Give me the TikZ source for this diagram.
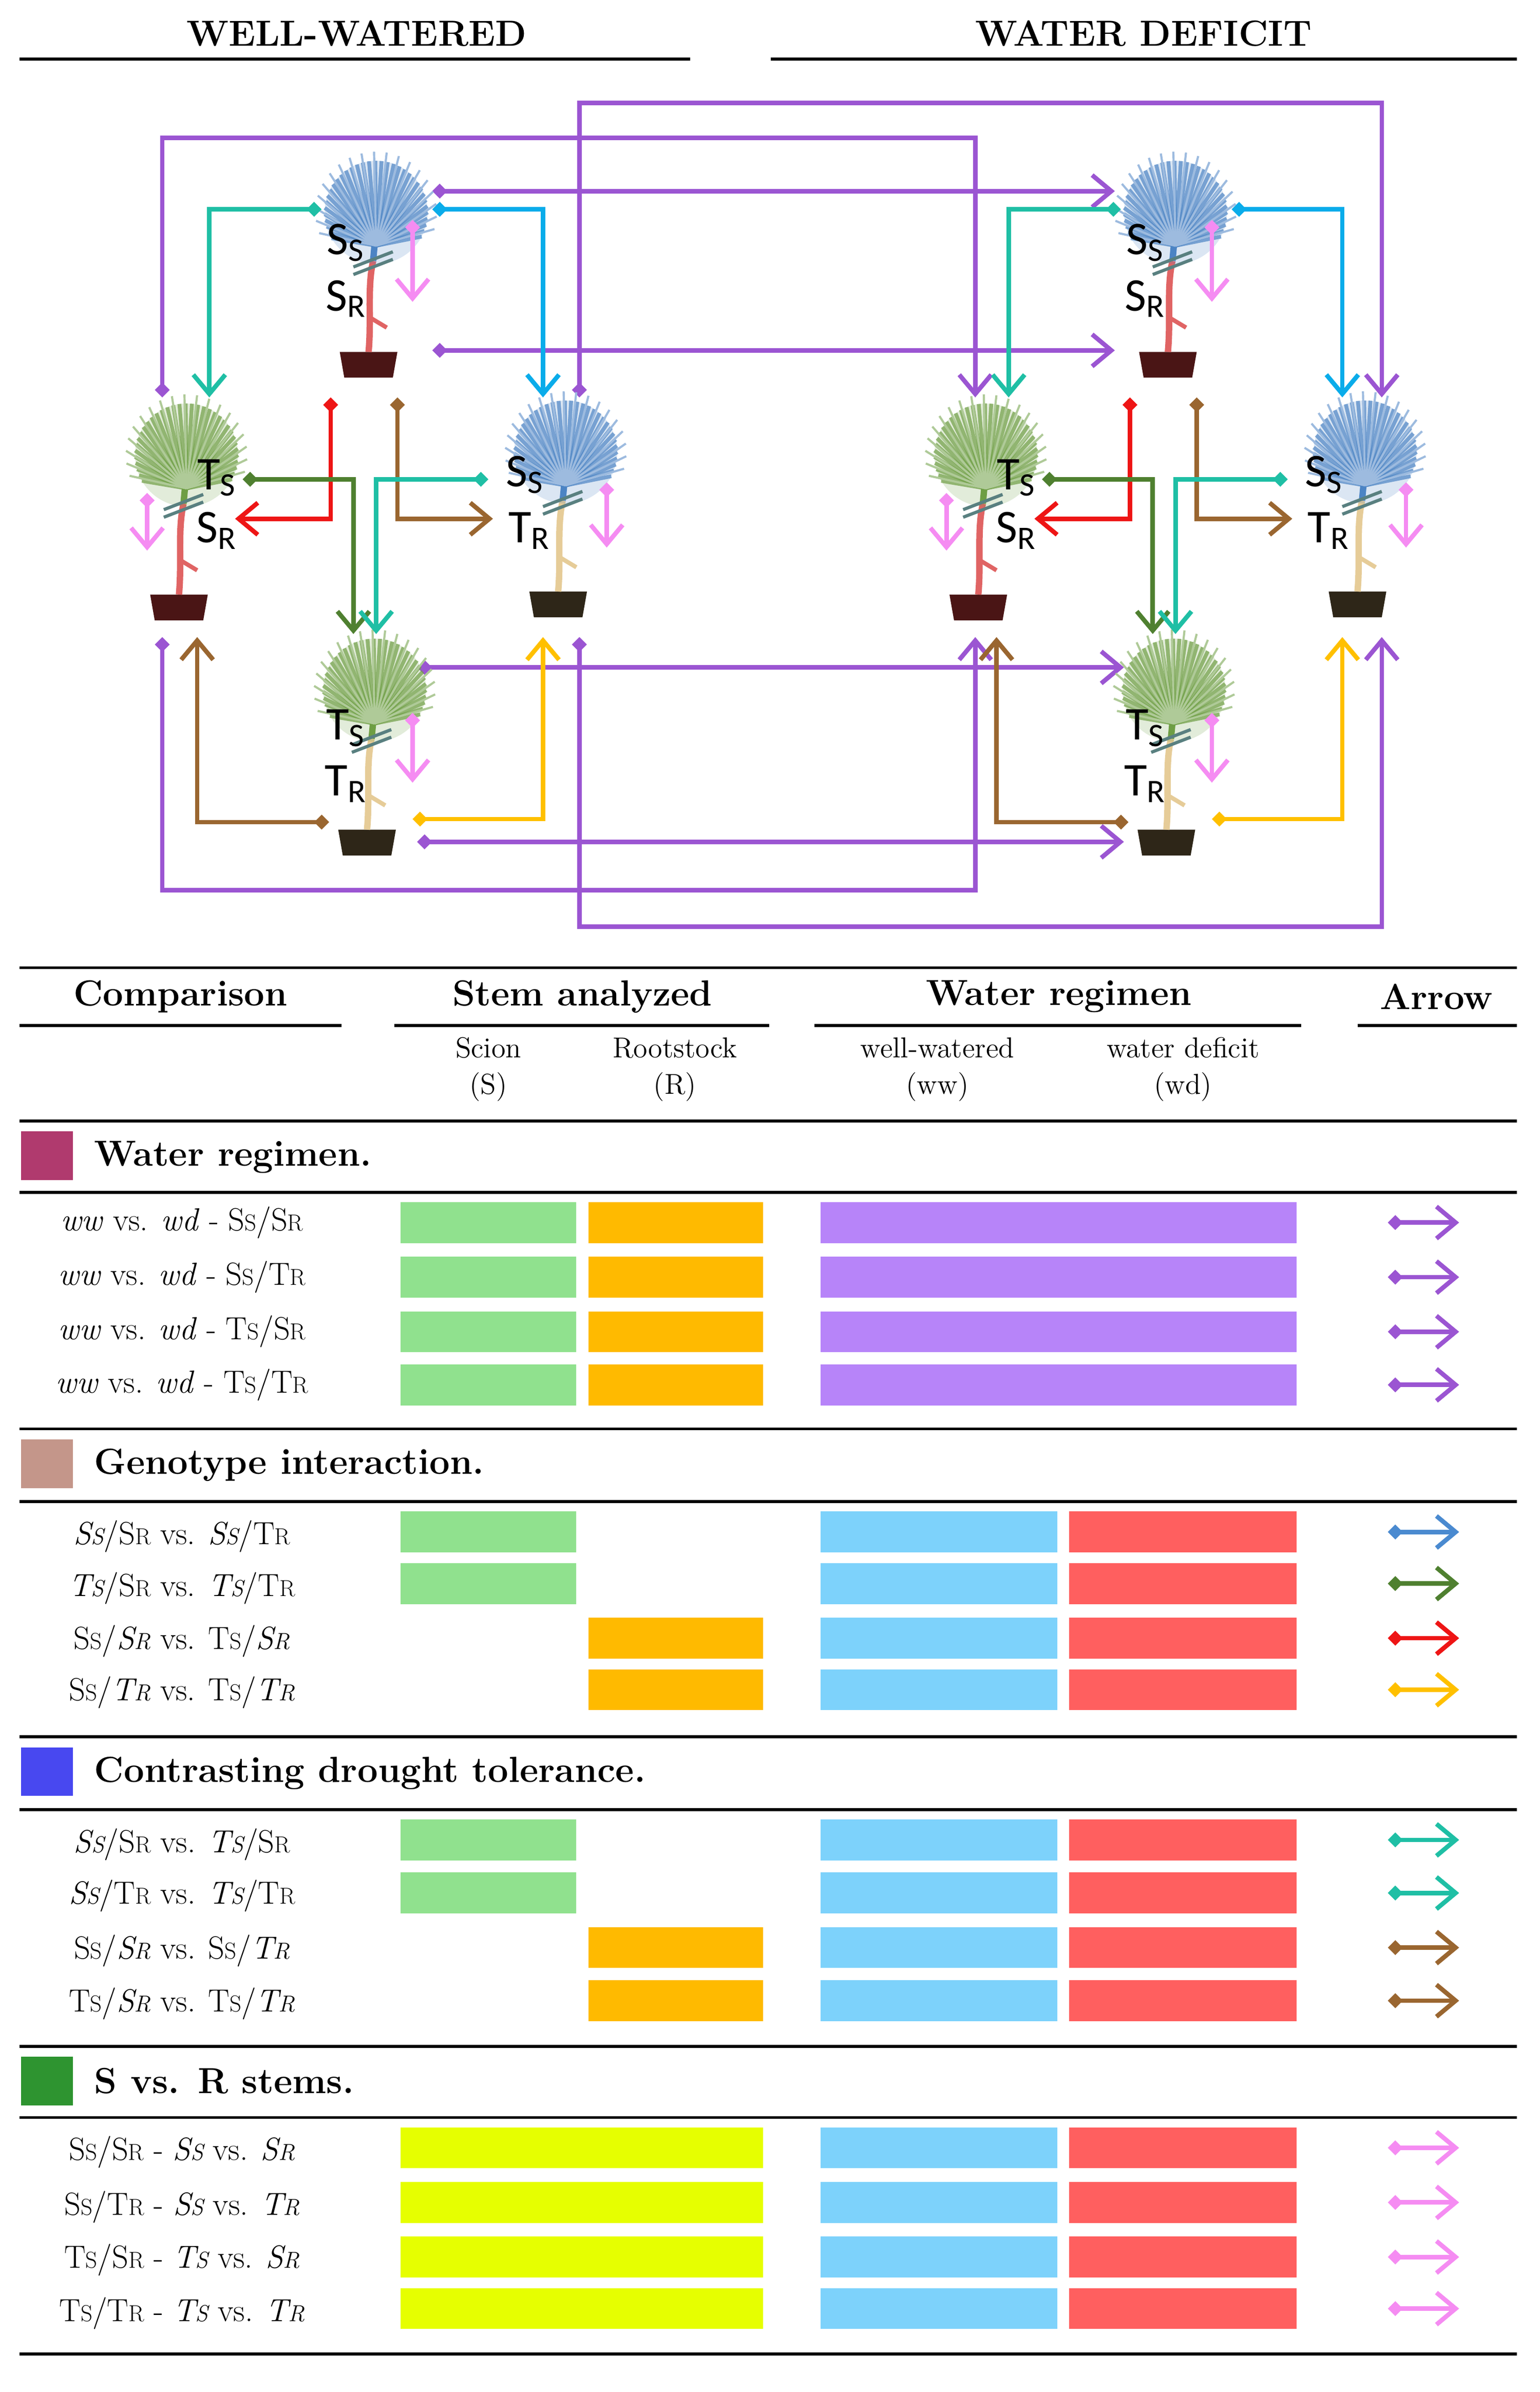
\documentclass[tikz,border=0pt]{standalone}
\usepackage{fontspec}
\setsansfont{Carlito}
\usetikzlibrary{arrows.meta,calc}
\definecolor{cpur}{HTML}{9B55D2}
\definecolor{cteal}{HTML}{1FBFA5}
\definecolor{cblue}{HTML}{0AACEA}
\definecolor{cred}{HTML}{EE1515}
\definecolor{cbrown}{HTML}{9A6630}
\definecolor{cdgreen}{HTML}{4F8030}
\definecolor{cyel}{HTML}{FFC000}
\definecolor{cpink}{HTML}{F58CF2}
\definecolor{csblue}{HTML}{4C84C4}
\definecolor{cgreen}{HTML}{6E9E44}
\definecolor{cstemr}{HTML}{E06464}
\definecolor{cstemt}{HTML}{E6CC98}
\definecolor{cpotr}{HTML}{4A1515}
\definecolor{cpott}{HTML}{2E2618}
\definecolor{bgreen}{HTML}{90E18E}
\definecolor{borange}{HTML}{FFBA00}
\definecolor{bpurple}{HTML}{B784F9}
\definecolor{bblue}{HTML}{7DD2FB}
\definecolor{bred}{HTML}{FF5F5F}
\definecolor{byel}{HTML}{E6FF00}
\definecolor{tblue}{HTML}{4A8AD0}
\definecolor{sq1}{HTML}{B03A6E}
\definecolor{sq2}{HTML}{C4968A}
\definecolor{sq3}{HTML}{4848F0}
\definecolor{sq4}{HTML}{2E9430}
\newcommand\lo[1]{\scalebox{0.72}{#1}}
\newcommand\mybar[4]{\fill[#1] (#2,#4-13.5) rectangle (#3,#4+13.5);}
\tikzset{
 x=0.025cm, y=-0.025cm,
 arr/.style={line width=2.1pt, {Diamond[length=7pt,width=7pt]}-{Straight Barb[length=9pt,width=15pt,line width=2.1pt]}},
 lbl/.style={font=\sffamily\fontsize{22}{22}\selectfont, inner sep=0pt},
 row/.style={font=\fontsize{15}{16}\selectfont, inner sep=0pt},
 sec/.style={font=\bfseries\fontsize{17}{18}\selectfont, anchor=west, inner sep=0pt},
 hdr/.style={font=\bfseries\fontsize{17}{18}\selectfont, inner sep=0pt},
 sub/.style={font=\fontsize{13.5}{15}\selectfont, inner sep=0pt, align=center},
 rule/.style={line width=1.4pt},
 pics/plant/.style n args={4}{code={
   \fill[#4] (-19,-8) -- (19,-8) -- (16,9) -- (-16,9) -- cycle;
   \draw[#3, line width=3pt] (0,-8) .. controls (2,-30) and (-1,-50) .. (3,-68);
   \draw[#3, line width=2pt] (2,-30) -- (12,-24);
   \draw[#1, line width=3pt] (3,-68) -- (5,-90);
   \fill[#1, opacity=0.2] (5,-100) circle (34);
   \foreach \a in {150,157,...,390} {\draw[#1, line width=1.8pt, opacity=0.7] (5,-78) -- ($(5,-100)+(\a:34)$);}
   \foreach \a in {160,172,...,380} {\draw[#1!55, line width=1pt] (5,-78) -- ($(5,-100)+(\a:40)$);}
   \draw[gray!70!teal, line width=1.5pt] (-10,-64) -- (16,-74) (-10,-59) -- (16,-69);
 }}
}
\newcommand\half[1]{%
 \pic at (243,240) {plant={csblue}{cstemr}{cstemr}{cpotr}};
 \pic at (118,400) {plant={cgreen}{cstemr}{cstemr}{cpotr}};
 \pic at (368,398) {plant={csblue}{cstemt}{cstemt}{cpott}};
 \pic at (242,555) {plant={cgreen}{cstemt}{cstemt}{cpott}};
 \node[lbl] (#1l1) at (228,160) {S\textsubscript{S}};
 \node[lbl] (#1l2) at (228,197) {S\textsubscript{R}};
 \node[lbl] (#1l3) at (143,315) {T\textsubscript{S}};
 \node[lbl] (#1l4) at (143,350) {S\textsubscript{R}};
 \node[lbl] (#1l5) at (346,313) {S\textsubscript{S}};
 \node[lbl] (#1l6) at (349,350) {T\textsubscript{R}};
 \node[lbl] (#1l7) at (228,480) {T\textsubscript{S}};
 \node[lbl] (#1l8) at (228,517) {T\textsubscript{R}};
 \coordinate (#1pa1) at (272,145); \coordinate (#1pb1) at (272,199);
 \coordinate (#1pa2) at (97,325); \coordinate (#1pb2) at (97,363);
 \coordinate (#1pa3) at (400,318); \coordinate (#1pb3) at (400,361);
 \coordinate (#1pa4) at (272,470); \coordinate (#1pb4) at (272,516);
 \foreach \i in {1,...,4} {\draw[arr, cpink] (#1pa\i) -- (#1pb\i);}
 \coordinate (#1ta) at (212,138); \coordinate (#1tb) at (138,262);
 \draw[arr, cteal] (#1ta) -| (#1tb);
 \coordinate (#1ba) at (285,138); \coordinate (#1bb) at (358,262);
 \draw[arr, cblue] (#1ba) -| (#1bb);
 \coordinate (#1ra) at (218,262); \coordinate (#1rb) at (155,342);
 \draw[arr, cred] (#1ra) |- (#1rb);
 \coordinate (#1wa) at (262,262); \coordinate (#1wb) at (325,342);
 \draw[arr, cbrown] (#1wa) |- (#1wb);
 \coordinate (#1ga) at (160,316); \coordinate (#1gb) at (233,418);
 \draw[arr, cdgreen] (#1ga) -| (#1gb);
 \coordinate (#1qa) at (322,316); \coordinate (#1qb) at (248,418);
 \draw[arr, cteal] (#1qa) -| (#1qb);
 \coordinate (#1xa) at (217,542); \coordinate (#1xb) at (130,420);
 \draw[arr, cbrown] (#1xa) -| (#1xb);
 \coordinate (#1ya) at (272,540); \coordinate (#1yb) at (358,420);
 \draw[arr, cyel] (#1ya) -| (#1yb);
}
\begin{document}
\begin{tikzpicture}
\useasboundingbox (0,0) rectangle (1015,1577);
% headers
\node[hdr] (hww) at (235,22) {WELL-WATERED};
\node[hdr] (hwd) at (754,22) {WATER DEFICIT};
\draw[rule] (13,39) -- (455,39);
\draw[rule] (508,39) -- (1000,39);
% purple long connectors
\coordinate (u1) at (107,262); \coordinate (v1) at (643,262);
\draw[arr, cpur] (u1) -- ++(0,-171) -| (v1);
\coordinate (u2) at (382,262); \coordinate (v2) at (911,262);
\draw[arr, cpur] (u2) -- ++(0,-194) -| (v2);
\coordinate (u7) at (107,420); \coordinate (v7) at (643,420);
\draw[arr, cpur] (u7) -- ++(0,167) -| (v7);
\coordinate (u8) at (382,420); \coordinate (v8) at (911,420);
\draw[arr, cpur] (u8) -- ++(0,191) -| (v8);
\coordinate (u3) at (285,126); \coordinate (v3) at (735,126);
\draw[arr, cpur] (u3) -- (v3);
\coordinate (u4) at (285,231); \coordinate (v4) at (735,231);
\draw[arr, cpur] (u4) -- (v4);
\coordinate (u5) at (275,440); \coordinate (v5) at (741,440);
\draw[arr, cpur] (u5) -- (v5);
\coordinate (u6) at (275,555); \coordinate (v6) at (741,555);
\draw[arr, cpur] (u6) -- (v6);
% plants and internal arrows
\half{w}
\begin{scope}[shift={(527,0)}]
\half{d}
\end{scope}
% table
\draw[rule] (13,638) -- (1000,638);
\node[hdr] (c1) at (119,657) {Comparison};
\node[hdr] (c2) at (384,657) {Stem analyzed};
\node[hdr] (c3) at (698,657) {Water regimen};
\node[hdr] (c4) at (947,657) {Arrow};
\draw[rule] (13,676) -- (225,676);
\draw[rule] (260,676) -- (507,676);
\draw[rule] (537,676) -- (858,676);
\draw[rule] (895,676) -- (1000,676);
\node[sub] (s1) at (322,705) {Scion\\[2pt](S)};
\node[sub] (s2) at (445,705) {Rootstock\\[2pt](R)};
\node[sub] (s3) at (618,705) {well-watered\\[2pt](ww)};
\node[sub] (s4) at (780,705) {water deficit\\[2pt](wd)};
\draw[rule] (13,739) -- (1000,739);
% section 1
\fill[sq1] (14,746) rectangle (48,778);
\node[sec] (t1) at (62,763) {Water regimen.};
\draw[rule] (13,786) -- (1000,786);
\foreach \y/\t [count=\i] in {806/{S\lo{S}/S\lo{R}}, 842/{S\lo{S}/T\lo{R}}, 878/{T\lo{S}/S\lo{R}}, 913/{T\lo{S}/T\lo{R}}} {
 \node[row] (r1\i) at (120,\y) {\textit{ww} vs. \textit{wd} - \t};
 \mybar{bgreen}{264}{380}{\y}
 \mybar{borange}{388}{503}{\y}
 \mybar{bpurple}{541}{855}{\y}
 \coordinate (a1\i) at (915,\y); \coordinate (b1\i) at (962,\y);
 \draw[arr, cpur] (a1\i) -- (b1\i);
}
\draw[rule] (13,942) -- (1000,942);
% section 2
\fill[sq2] (14,949) rectangle (48,981);
\node[sec] (t2) at (62,966) {Genotype interaction.};
\draw[rule] (13,990) -- (1000,990);
\node[row] (r21) at (120,1013) {\textit{S\lo{S}}/S\lo{R} vs. \textit{S\lo{S}}/T\lo{R}};
\node[row] (r22) at (120,1047) {\textit{T\lo{S}}/S\lo{R} vs. \textit{T\lo{S}}/T\lo{R}};
\node[row] (r23) at (120,1082) {S\lo{S}/\textit{S\lo{R}} vs. T\lo{S}/\textit{S\lo{R}}};
\node[row] (r24) at (120,1116) {S\lo{S}/\textit{T\lo{R}} vs. T\lo{S}/\textit{T\lo{R}}};
\mybar{bgreen}{264}{380}{1010} \mybar{bgreen}{264}{380}{1044}
\mybar{borange}{388}{503}{1080} \mybar{borange}{388}{503}{1114}
\foreach \y/\c [count=\i] in {1010/tblue, 1044/cdgreen, 1080/cred, 1114/cyel} {
 \mybar{bblue}{541}{697}{\y}
 \mybar{bred}{705}{855}{\y}
 \coordinate (a2\i) at (915,\y); \coordinate (b2\i) at (962,\y);
 \draw[arr, \c] (a2\i) -- (b2\i);
}
\draw[rule] (13,1145) -- (1000,1145);
% section 3
\fill[sq3] (14,1152) rectangle (48,1184);
\node[sec] (t3) at (62,1169) {Contrasting drought tolerance.};
\draw[rule] (13,1193) -- (1000,1193);
\node[row] (r31) at (120,1216) {\textit{S\lo{S}}/S\lo{R} vs. \textit{T\lo{S}}/S\lo{R}};
\node[row] (r32) at (120,1250) {\textit{S\lo{S}}/T\lo{R} vs. \textit{T\lo{S}}/T\lo{R}};
\node[row] (r33) at (120,1286) {S\lo{S}/\textit{S\lo{R}} vs. S\lo{S}/\textit{T\lo{R}}};
\node[row] (r34) at (120,1321) {T\lo{S}/\textit{S\lo{R}} vs. T\lo{S}/\textit{T\lo{R}}};
\mybar{bgreen}{264}{380}{1213} \mybar{bgreen}{264}{380}{1248}
\mybar{borange}{388}{503}{1284} \mybar{borange}{388}{503}{1319}
\foreach \y/\c [count=\i] in {1213/cteal, 1248/cteal, 1284/cbrown, 1319/cbrown} {
 \mybar{bblue}{541}{697}{\y}
 \mybar{bred}{705}{855}{\y}
 \coordinate (a3\i) at (915,\y); \coordinate (b3\i) at (962,\y);
 \draw[arr, \c] (a3\i) -- (b3\i);
}
\draw[rule] (13,1349) -- (1000,1349);
% section 4
\fill[sq4] (14,1356) rectangle (48,1388);
\node[sec] (t4) at (62,1372) {S vs. R stems.};
\draw[rule] (13,1396) -- (1000,1396);
\node[row] (r41) at (120,1419) {S\lo{S}/S\lo{R} - \textit{S\lo{S}} vs. \textit{S\lo{R}}};
\node[row] (r42) at (120,1455) {S\lo{S}/T\lo{R} - \textit{S\lo{S}} vs. \textit{T\lo{R}}};
\node[row] (r43) at (120,1490) {T\lo{S}/S\lo{R} - \textit{T\lo{S}} vs. \textit{S\lo{R}}};
\node[row] (r44) at (120,1525) {T\lo{S}/T\lo{R} - \textit{T\lo{S}} vs. \textit{T\lo{R}}};
\foreach \y [count=\i] in {1416,1452,1488,1522} {
 \mybar{byel}{264}{503}{\y}
 \mybar{bblue}{541}{697}{\y}
 \mybar{bred}{705}{855}{\y}
 \coordinate (a4\i) at (915,\y); \coordinate (b4\i) at (962,\y);
 \draw[arr, cpink] (a4\i) -- (b4\i);
}
\draw[rule] (13,1552) -- (1000,1552);
\end{tikzpicture}
\end{document}
